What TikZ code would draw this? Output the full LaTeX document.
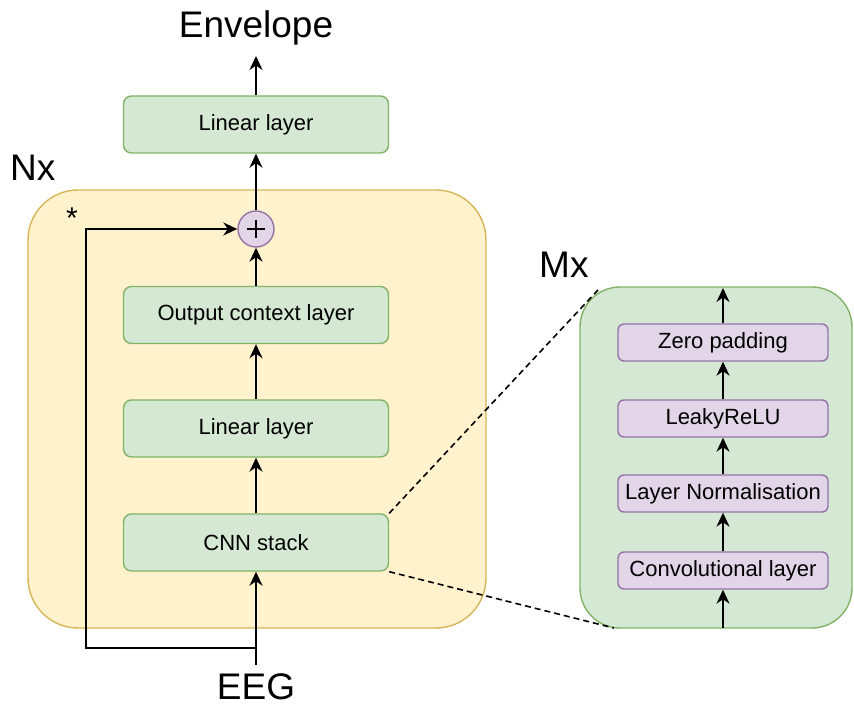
\documentclass[tikz,border=0pt]{standalone}
\usepackage{fontspec}
\setmainfont{Liberation Sans}
\usetikzlibrary{arrows.meta}
\definecolor{ylwfill}{HTML}{FFF2CC}
\definecolor{ylwline}{HTML}{D6B656}
\definecolor{grnfill}{HTML}{D5E8D4}
\definecolor{grnline}{HTML}{82B366}
\definecolor{prpfill}{HTML}{E1D5E7}
\definecolor{prpline}{HTML}{9673A6}
\tikzset{
  flow/.style={line width=1.8pt,-{Stealth[length=14pt,width=13pt,inset=4.5pt]}},
  greenbox/.style={draw=grnline,fill=grnfill,line width=1.4pt,rounded corners=8pt,
    minimum width=265pt,minimum height=57pt,inner sep=0pt,font=\fontsize{22}{26}\selectfont},
  purplebox/.style={draw=prpline,fill=prpfill,line width=1.4pt,rounded corners=6pt,
    minimum width=210pt,minimum height=37pt,inner sep=0pt,font=\fontsize{22}{26}\selectfont},
  bigtext/.style={font=\fontsize{37}{42}\selectfont,inner sep=0pt},
}
\begin{document}
\begin{tikzpicture}[x=1pt,y=-1pt]
\useasboundingbox (0,0) rectangle (854,708);

% containers
\draw[draw=ylwline,fill=ylwfill,line width=1.4pt,rounded corners=50pt]
  (28,190) rectangle (486,628);
\draw[draw=grnline,fill=grnfill,line width=1.4pt,rounded corners=40pt]
  (580,287) rectangle (852,628);

% main column
\node[greenbox] (lintop) at (256,124.5) {Linear layer};
\node[greenbox] (ctx) at (256,315) {Output context layer};
\node[greenbox] (linmid) at (256,428.5) {Linear layer};
\node[greenbox] (cnn) at (256,542.5) {CNN stack};
\node[circle,draw=prpline,fill=prpfill,line width=1.4pt,minimum size=36pt,inner sep=0pt] (plus) at (256,229) {};
\draw[line width=1.6pt] (plus.center) ++(-9,0) -- ++(18,0);
\draw[line width=1.6pt] (plus.center) ++(0,-9) -- ++(0,18);

\node[bigtext] (env) at (256,28) {Envelope};
\node[bigtext] (eeg) at (256,687) {EEG};
\node[bigtext,anchor=west] (nx) at (10,168) {Nx};
\node[bigtext,anchor=west] (mx) at (539,265) {Mx};
\node[font=\fontsize{30}{30}\selectfont,inner sep=0pt] (star) at (72,218) {*};

\coordinate (envbase) at (256,56);
\coordinate (eegtop) at (256,665);
\coordinate (split) at (256,648);
\coordinate (corner1) at (86,648);
\coordinate (corner2) at (86,229);

\draw[flow] (lintop.north) -- (envbase);
\draw[flow] (plus.north) -- (lintop.south);
\draw[flow] (ctx.north) -- (plus.south);
\draw[flow] (linmid.north) -- (ctx.south);
\draw[flow] (cnn.north) -- (linmid.south);
\draw[flow] (eegtop) -- (cnn.south);
\draw[flow] (split) -- (corner1) -- (corner2) -- (plus.west);

% detail of the CNN stack
\node[purplebox] (zero) at (723,342.5) {Zero padding};
\node[purplebox] (leaky) at (723,418.5) {LeakyReLU};
\node[purplebox] (norm) at (723,493.5) {Layer Normalisation};
\node[purplebox] (conv) at (723,570.5) {Convolutional layer};
\coordinate (mtop) at (723,288);
\coordinate (mbot) at (723,628);
\draw[flow] (zero.north) -- (mtop);
\draw[flow] (leaky.north) -- (zero.south);
\draw[flow] (norm.north) -- (leaky.south);
\draw[flow] (conv.north) -- (norm.south);
\draw[flow] (mbot) -- (conv.south);

\coordinate (zoomtop) at (598,290);
\coordinate (zoombot) at (614,628);
\draw[line width=1.6pt,dash pattern=on 6pt off 4pt] (cnn.north east) -- (zoomtop);
\draw[line width=1.6pt,dash pattern=on 6pt off 4pt] (cnn.south east) -- (zoombot);
\end{tikzpicture}
\end{document}
